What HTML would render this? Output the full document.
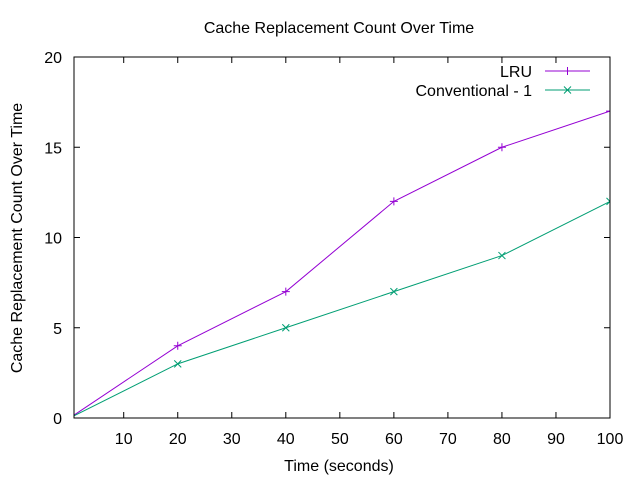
<!DOCTYPE html>
<html><head><meta charset="utf-8"><style>
body{margin:0;background:#fff}
svg text{font-family:"Liberation Sans",sans-serif;font-size:16px;fill:#000}
</style></head><body>
<svg id="chart" width="640" height="480">
<defs><clipPath id="pc"><rect x="74" y="57" width="536" height="361"/></clipPath></defs>
<text x="339" y="33" text-anchor="middle">Cache Replacement Count Over Time</text>
<text x="339" y="471" text-anchor="middle">Time (seconds)</text>
<text transform="translate(22,238) rotate(-90)" text-anchor="middle">Cache Replacement Count Over Time</text>
<g id="axes"></g>
<g id="series"></g>
<rect x="74" y="57" width="536" height="361" fill="none" stroke="#000" stroke-width="1"/>
</svg>
<script>
const xTicks=[10,20,30,40,50,60,70,80,90,100];
const yTicks=[0,5,10,15,20];
const times=[0,20,40,60,80,100];
const lruValues=[0,4,7,12,15,17];
const convValues=[0,3,5,7,9,12];
const NS="http://www.w3.org/2000/svg";
const X0=74,X1=610,Y0=418,Y1=57,xmin=0.8,xmax=100,ymin=0,ymax=20;
const sx=v=>X0+(v-xmin)/(xmax-xmin)*(X1-X0);
const sy=v=>Y0-(v-ymin)/(ymax-ymin)*(Y0-Y1);
function mk(t,a,p){const e=document.createElementNS(NS,t);for(const k in a)e.setAttribute(k,a[k]);p.appendChild(e);return e;}
const axes=document.getElementById('axes');
xTicks.forEach(v=>{const x=sx(v);
const t=mk('line',{x1:x,x2:x,y1:Y0,y2:Y0-6,stroke:'#000'},axes);


const t2=mk('line',{x1:x,x2:x,y1:Y1,y2:Y1+6,stroke:'#000'},axes);


const l=mk('text',{x:x,y:Y0+26,'text-anchor':'middle'},axes);l.textContent=v;

});
yTicks.forEach(v=>{const y=sy(v);
const t=mk('line',{x1:X0,x2:X0+6,y1:y,y2:y,stroke:'#000'},axes);


const t2=mk('line',{x1:X1,x2:X1-6,y1:y,y2:y,stroke:'#000'},axes);


const l=mk('text',{x:X0-12,y:y+6,'text-anchor':'end'},axes);l.textContent=v;

});
const ser=document.getElementById('series');
function plus(g,x,y,c){mk('path',{d:`M${x-4},${y}h8M${x},${y-4}v8`,stroke:c,fill:'none'},g);}
function cross(g,x,y,c){mk('path',{d:`M${x-3.5},${y-3.5}l7,7M${x-3.5},${y+3.5}l7,-7`,stroke:c,fill:'none'},g);}
function draw(name,vals,color,mark,label,ly){
const g=mk('g',{'clip-path':'url(#pc)'},ser);


const pl=mk('polyline',{points:times.map((t,i)=>sx(t)+','+sy(vals[i])).join(' '),fill:'none',stroke:color,'stroke-width':1},g);


times.forEach((t,i)=>{if(t>=xmin)mark(g,sx(t),sy(vals[i]),color);});
const lg=mk('g',{},ser);


const tx=mk('text',{x:532,y:ly+6,'text-anchor':'end'},lg);tx.textContent=label;
mk('line',{x1:545,x2:590,y1:ly,y2:ly,stroke:color},lg);
mark(lg,567.5,ly,color);
}
draw('lru',lruValues,'#9400d3',plus,'LRU',71);
draw('conventional',convValues,'#009e73',cross,'Conventional - 1',90);
</script>
</body></html>
